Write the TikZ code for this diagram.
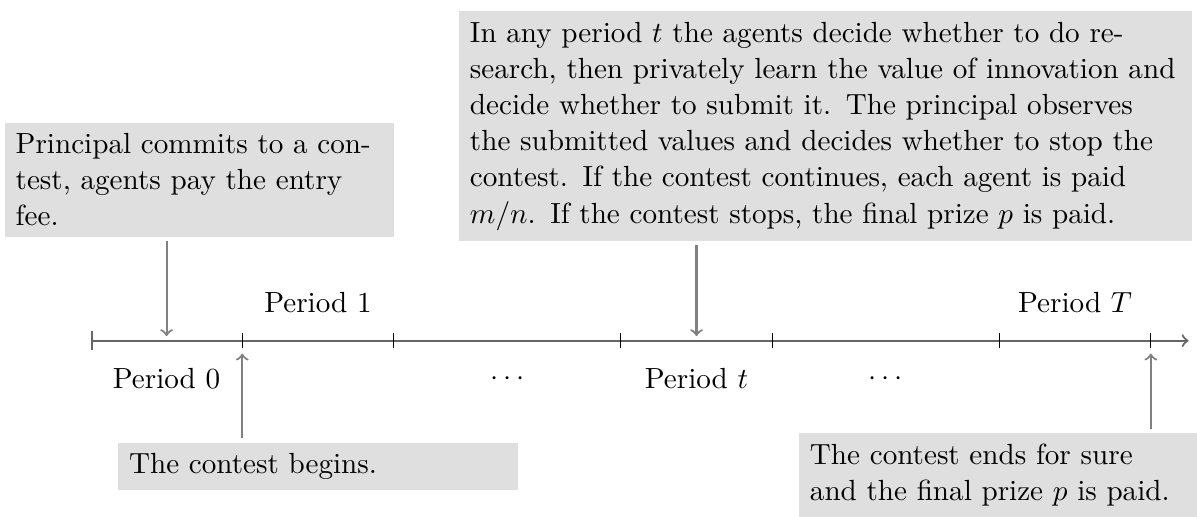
\documentclass[tikz,border=0pt]{standalone}
\begin{document}
\begin{tikzpicture}
[font=\fontsize{10.95}{13.6}\selectfont,
  eventbox/.style={fill=gray!25,inner sep=4pt,text width=#1,align=left},
  eventarrow/.style={->,thick,gray,shorten <=1.5pt},
  timeline/.style={|->,thick,black!60}]
\useasboundingbox (-1.2,-2.325) rectangle (14.61,4.5);
%% time line and ticks
\coordinate (start) at (0,0);
\coordinate (end) at (14.5,0);
\draw[timeline] (start) -- (end);
\foreach \x in {2,4,7,9,12,14} {
  \draw (\x,-0.1) -- (\x,0.1);
}
%% period labels
\foreach \nodename/\x/\y/\txt in {per0/1/-0.5/Period $0$, per1/3/0.5/Period $1$,
  dots1/5.5/-0.5/$\cdots$, pert/8/-0.5/Period $t$, dots2/10.5/-0.5/$\cdots$,
  perT/13/0.5/Period $T$} {
  \node (\nodename) at (\x,\y) {\txt};
}
%% events
\node (commit) [eventbox=4.85cm,anchor=south west] at (-1.14,1.365)
  {Principal commits to a contest, agents pay the entry fee.};
\node (round) [eventbox=9.4cm,anchor=south west] at (4.86,1.31)
  {In any period $t$ the agents decide whether to do re-\\
  search, then privately learn the value of innovation and\\
  decide whether to submit it. The principal observes\\
  the submitted values and decides whether to stop the\\
  contest. If the contest continues, each agent is paid\\
  $m/n$. If the contest stops, the final prize $p$ is paid.};
\node (begin) [eventbox=5cm,anchor=north west] at (0.357,-1.34)
  {The contest begins.};
\node (finish) [eventbox=5cm,anchor=north west] at (9.35,-1.215)
  {The contest ends for sure and the final prize $p$ is paid.};
%% arrows to the time line
\coordinate (at0) at (1,0.06);
\coordinate (at1) at (2,-0.17);
\coordinate (att) at (8,0.06);
\coordinate (atT) at (14,-0.17);
\draw[eventarrow] (commit.south -| at0) -- (at0);
\draw[eventarrow] (round.south -| att) -- (att);
\draw[eventarrow] (begin.north -| at1) -- (at1);
\draw[eventarrow] (finish.north -| atT) -- (atT);
\end{tikzpicture}
\end{document}
